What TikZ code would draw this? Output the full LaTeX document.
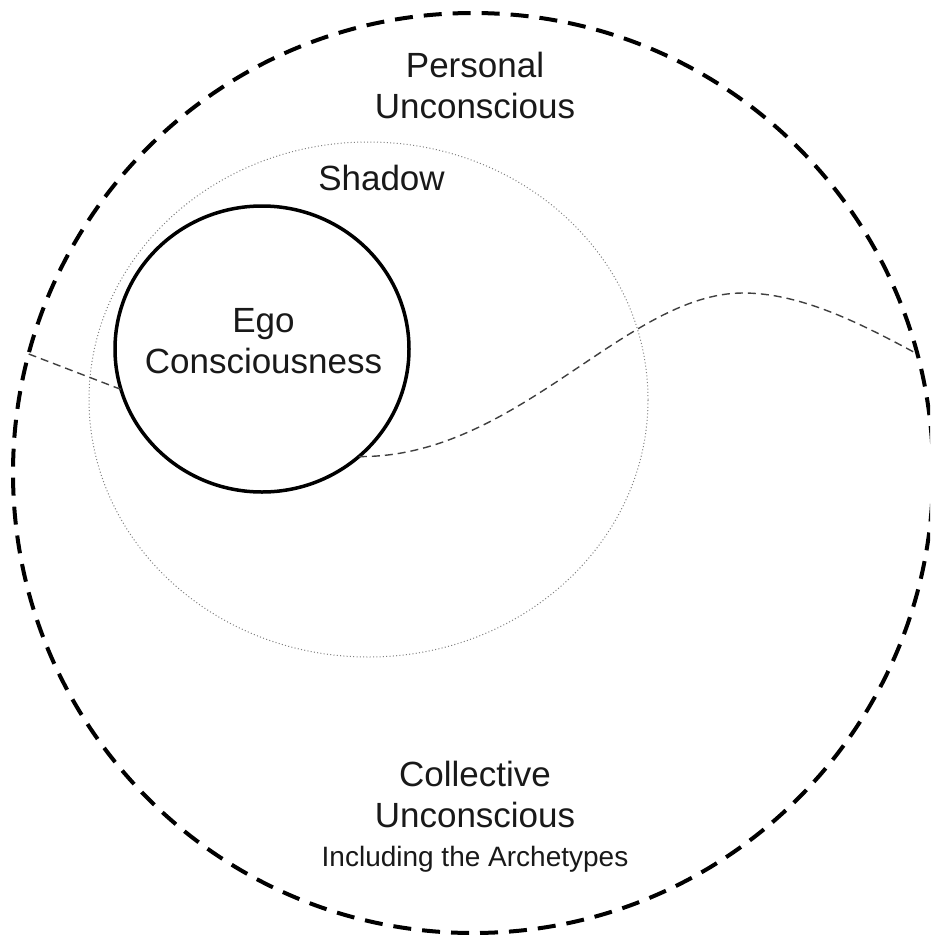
\documentclass[tikz,border=0pt]{standalone}
\usepackage{fontspec}
\setmainfont{Liberation Sans}
\usetikzlibrary{shapes.geometric}
\begin{document}
\begin{tikzpicture}[x=1pt,y=-1pt,
  ring/.style={ellipse, inner sep=0pt, outer sep=0pt},
  outerring/.style={ring, draw=black, line width=4pt, dash pattern=on 18pt off 11pt},
  shadowring/.style={ring, draw=black!50, line width=1pt, dash pattern=on 1pt off 2.3pt},
  egoring/.style={ring, draw=black, line width=3.5pt},
  thindash/.style={draw=black!75, line width=1.4pt, dash pattern=on 8pt off 5pt},
  lbl/.style={font=\fontsize{35}{41}\selectfont, align=center, anchor=base, inner sep=0pt, text=black!90},
  sublbl/.style={font=\fontsize{28}{33}\selectfont, anchor=base, inner sep=0pt, text=black!90}]
\useasboundingbox (0,0) rectangle (930,937);
\clip (0,0) rectangle (930,937);
\fill[white] (0,0) rectangle (930,937);
\node[outerring, minimum width=920pt, minimum height=920pt] (pu) at (473,473) {};
\node[shadowring, minimum width=559pt, minimum height=515pt] (sh) at (368.5,399.5) {};
\node[egoring, minimum width=294pt, minimum height=286pt] (ego) at (262,349) {};
\coordinate (peak) at (743,293);
\draw[thindash] (pu.165.4) -- (ego.196.8);
\draw[thindash] (ego.312.8) .. controls (517,458) and (626,293) .. (peak)
  .. controls (800,293) and (858,322) .. (pu.15);
\node[lbl] (putext) at (475,118) {Personal\\Unconscious};
\node[lbl] (shtext) at (381.5,190) {Shadow};
\node[lbl] (egotext) at (263.5,373) {Ego\\Consciousness};
\node[lbl] (cutext) at (475,827) {Collective\\Unconscious};
\node[sublbl] (arch) at (475,866) {Including the Archetypes};
\end{tikzpicture}
\end{document}
